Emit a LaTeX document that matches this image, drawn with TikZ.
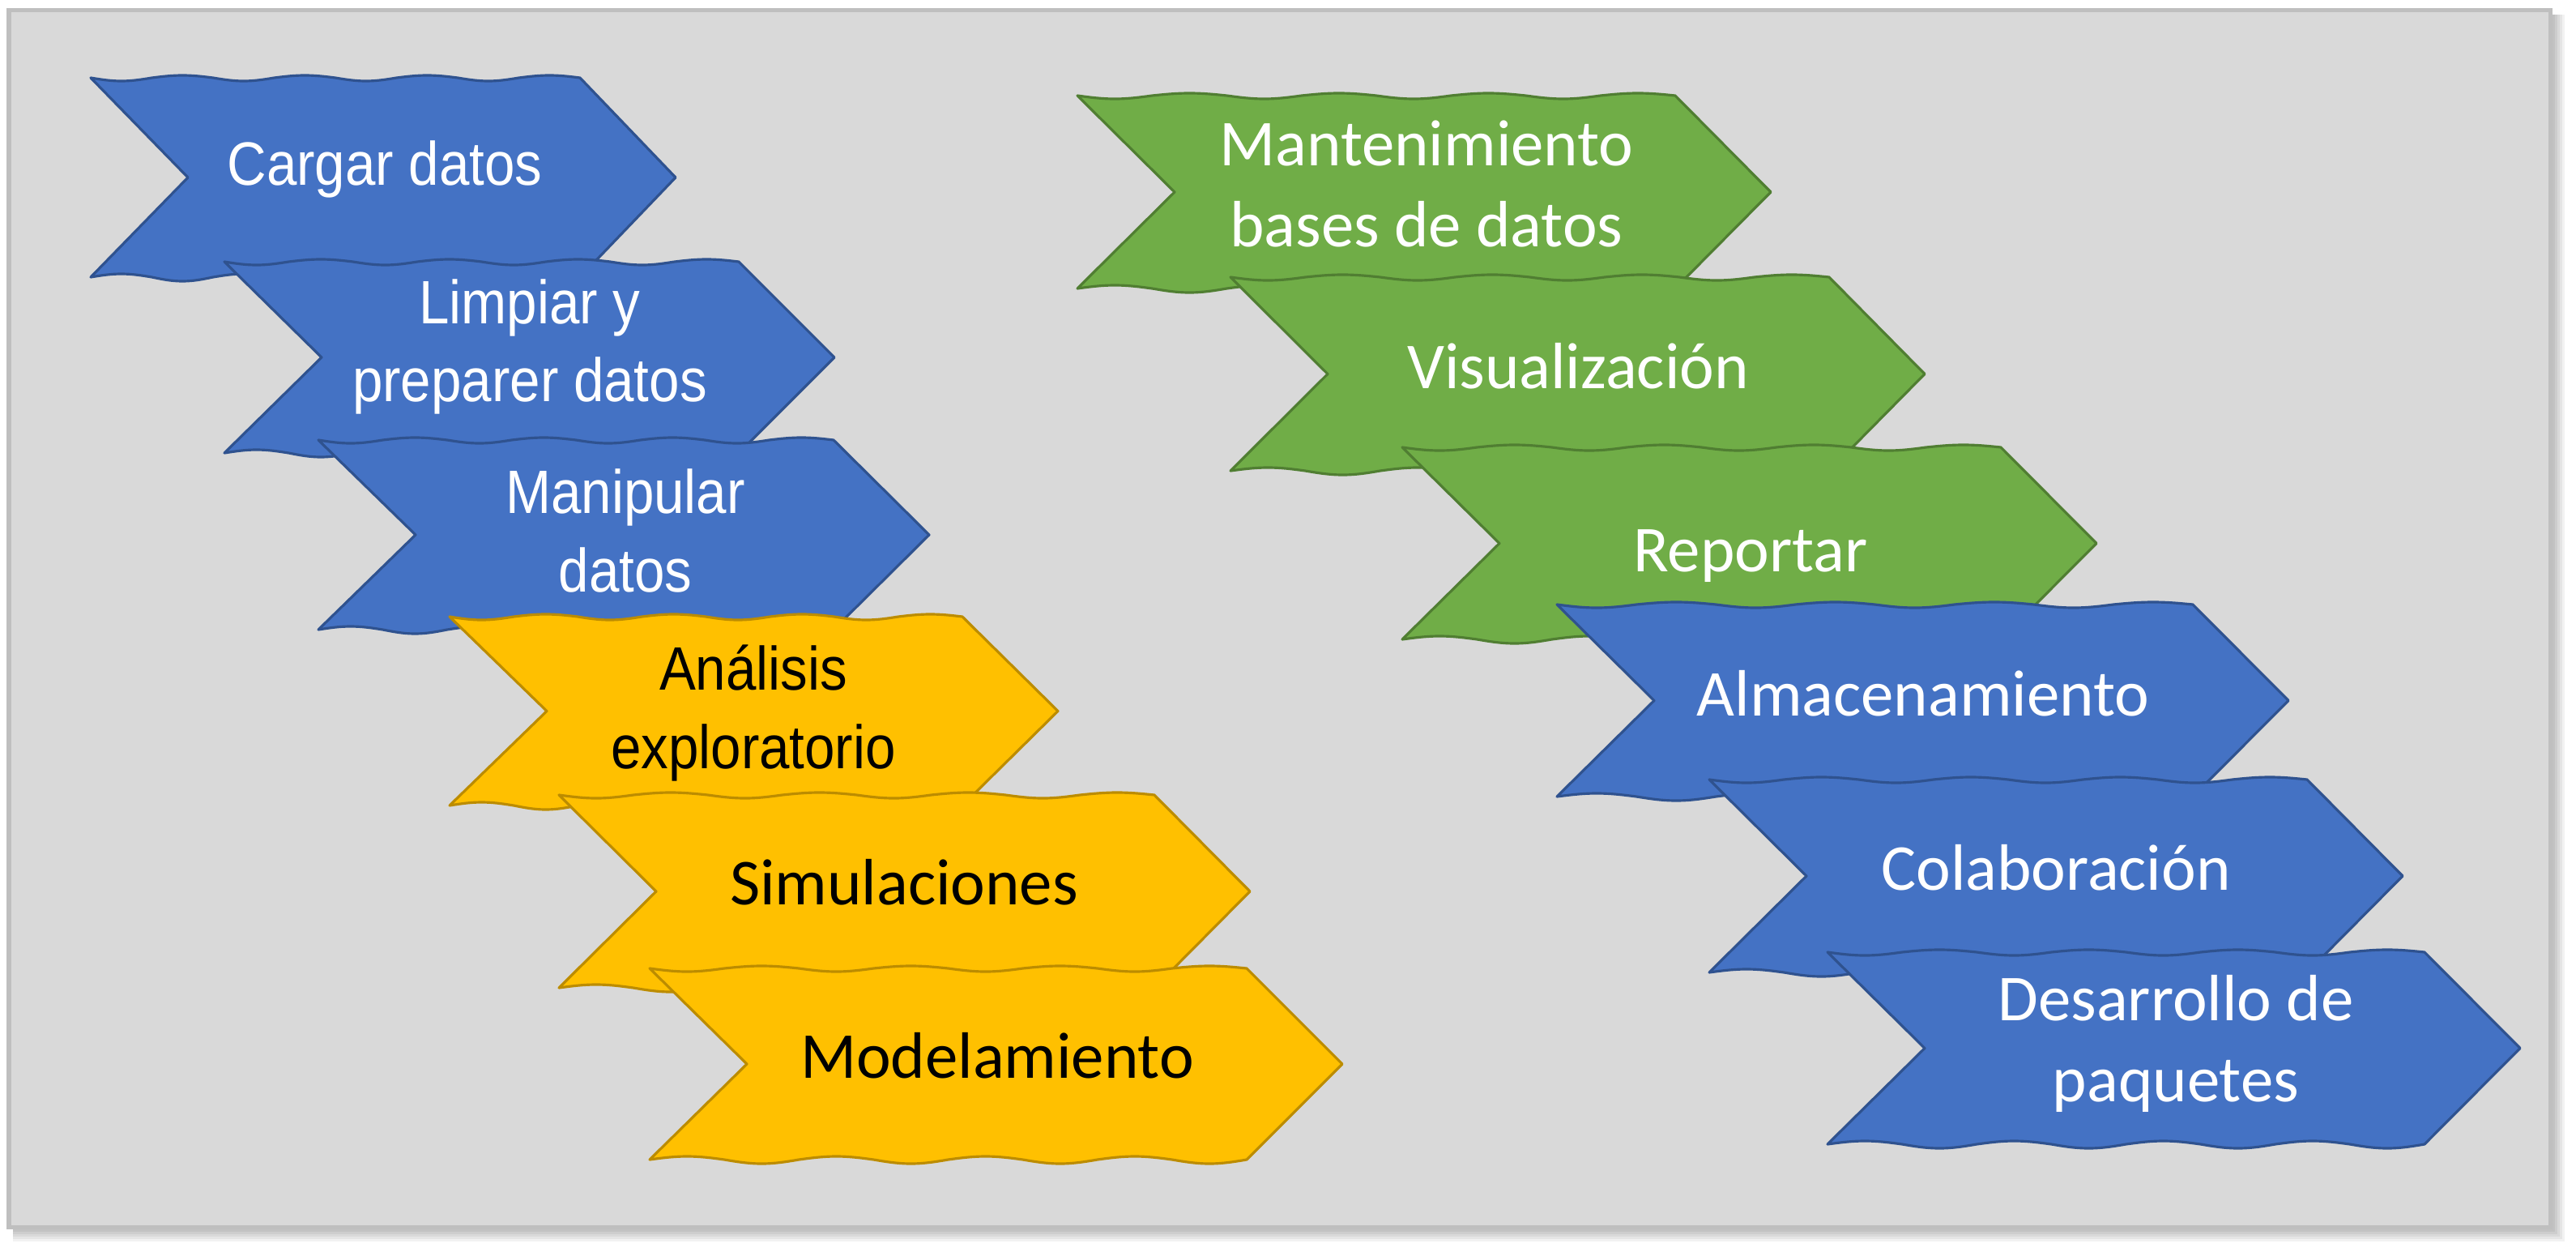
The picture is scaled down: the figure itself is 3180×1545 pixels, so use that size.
\documentclass[tikz,border=0pt]{standalone}
\usepackage{fontspec}
\newfontfamily\arialn[FakeStretch=0.89]{Liberation Sans}
\newfontfamily\calibri{Carlito}
\usepackage{tikz}
\definecolor{fondo}{HTML}{D9D9D9}
\definecolor{marco}{HTML}{BFBFBF}
\definecolor{azulrelleno}{HTML}{4472C4}
\definecolor{azulborde}{HTML}{2F528F}
\definecolor{verderelleno}{HTML}{70AD47}
\definecolor{verdeborde}{HTML}{507E32}
\definecolor{amarillorelleno}{HTML}{FFC000}
\definecolor{amarilloborde}{HTML}{BC8C00}

\begin{document}
\begin{tikzpicture}
[x=0.01cm,y=-0.01cm]
\tikzset{
	azul/.style = {fill=azulrelleno, draw=azulborde, line width=0.9pt, line join=round},
	verde/.style = {fill=verderelleno, draw=verdeborde, line width=0.9pt, line join=round},
	amarillo/.style = {fill=amarillorelleno, draw=amarilloborde, line width=0.9pt, line join=round},
	textoA/.style = {inner sep=0, align=center, font=\arialn\fontsize{21.5}{27.5}\selectfont},
	textoC/.style = {inner sep=0, align=center, font=\calibri\fontsize{23}{28.2}\selectfont}
}

\useasboundingbox (0,0) rectangle (3180,1545);
\fill[white] (0,0) rectangle (3180,1545);

% marco con sombra
\foreach \k in {3,6,...,18}
	\fill[black, opacity=0.05] (16,18) rectangle (3148+\k,1514+\k);
\draw[draw=marco, fill=fondo, line width=0.05cm] (11,12) rectangle (3148,1514);

% flechas onduladas: x, y, ancho, alto, estilo
\foreach \xa/\ya/\w/\h/\s in {
	112/96/604/246/azul, 277/323/635/236/azul, 393/543/636/234/azul,
	555/761/633/233/amarillo, 690/981/735/238/amarillo, 802/1195/737/236/amarillo,
	1330/118/738/238/verde, 1519/342/739/239/verde, 1731/552/739/237/verde,
	1922/746/785/237/azul, 2110/962/738/238/azul, 2256/1175/737/237/azul}
{
	\pgfmathsetmacro\q{\w/16}
	\draw[\s] (\xa,\ya)
		\foreach \k in {1,...,4}{ sin ++(\q,4) cos ++(\q,-4) sin ++(\q,-3) cos ++(\q,3) }
		-- ++(118,\h/2) -- ++(-118,\h/2)
		\foreach \k in {1,...,4}{ sin ++(-\q,5) cos ++(-\q,-5) sin ++(-\q,-4) cos ++(-\q,4) }
		-- ++(120,-\h/2) -- cycle;
}

% textos
\node (cargar) [textoA, text=white, anchor=base] at (475,228) {Cargar datos};
\node (limpiar) [textoA, text=white] at (654,428) {Limpiar y\\preparer datos};
\node (manipular) [textoA, text=white] at (772,655) {Manipular\\datos};
\node (analisis) [textoA] at (930,880) {Análisis\\exploratorio};
\node (simulaciones) [textoC, anchor=base] at (1116,1116) {Simulaciones};
\node (modelamiento) [textoC, anchor=base] at (1231,1330) {Modelamiento};
\node (mantenimiento) [textoC, text=white] at (1761,227) {Mantenimiento\\bases de datos};
\node (visualizacion) [textoC, text=white, anchor=base] at (1948,479) {Visualización};
\node (reportar) [textoC, text=white, anchor=base] at (2161,705) {Reportar};
\node (almacenamiento) [textoC, text=white, anchor=base] at (2374,883) {Almacenamiento};
\node (colaboracion) [textoC, text=white, anchor=base] at (2538,1098) {Colaboración};
\node (desarrollo) [textoC, text=white] at (2686,1288) {Desarrollo de\\paquetes};
\end{tikzpicture}
\end{document}
